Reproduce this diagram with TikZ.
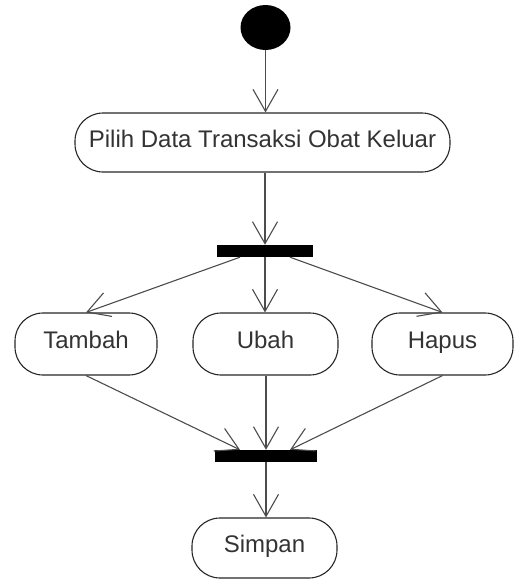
\documentclass[tikz,border=0pt]{standalone}
\usepackage{fontspec}
\setmainfont{Liberation Sans}
\usetikzlibrary{arrows.meta,calc,shapes.geometric}
\begin{document}
\begin{tikzpicture}[x=1pt,y=-1pt,
  act/.style={draw=black!85,line width=1.1pt,rounded corners=28pt,inner sep=0pt,
    font=\fontsize{24}{28}\selectfont,text=black!80,text height=17pt,text depth=8pt,minimum height=60pt},
  bar/.style={fill=black,draw=none,inner sep=0pt},
  flow/.style={draw=black!70,line width=1.1pt,-{Straight Barb[length=22pt,width=25pt,line width=1.1pt]}}]
\useasboundingbox (0,0) rectangle (514,579);
\node[fill=black,ellipse,inner sep=0pt,minimum width=50pt,minimum height=45pt] (start) at (265.5,27.5) {};
\node[act,minimum width=375pt,minimum height=59pt] (pilih) at (262.5,142.5) {Pilih Data Transaksi Obat Keluar};
\node[bar,minimum width=96pt,minimum height=12pt] (fork) at (265,251) {};
\node[act,minimum width=142pt,minimum height=62pt] (tambah) at (86,344) {Tambah};
\node[act,minimum width=145pt,minimum height=62pt] (ubah) at (265.5,344) {Ubah};
\node[act,minimum width=141pt,minimum height=62pt] (hapus) at (442.5,344) {Hapus};
\node[bar,minimum width=102pt,minimum height=12pt] (join) at (266,456) {};
\node[act,minimum width=145pt,minimum height=60pt] (simpan) at (264.5,548) {Simpan};
\coordinate (f1) at ($(fork.south)+(-25,0)$);
\coordinate (f3) at ($(fork.south)+(25,0)$);
\coordinate (j1) at ($(join.north)+(-26,0)$);
\coordinate (j3) at ($(join.north)+(24,0)$);
\draw[flow] (start.south) -- (start.south |- pilih.north);
\draw[flow] (pilih.south -| fork.north) -- (fork.north);
\draw[flow] (f1) -- (tambah.north);
\draw[flow] (fork.south) -- (ubah.north -| fork.south);
\draw[flow] (f3) -- (hapus.north);
\draw[flow] (tambah.south) -- (j1);
\draw[flow] (ubah.south -| join.north) -- (join.north);
\draw[flow] (hapus.south) -- (j3);
\draw[flow] (join.south) -- (join.south |- simpan.north);
\end{tikzpicture}
\end{document}
